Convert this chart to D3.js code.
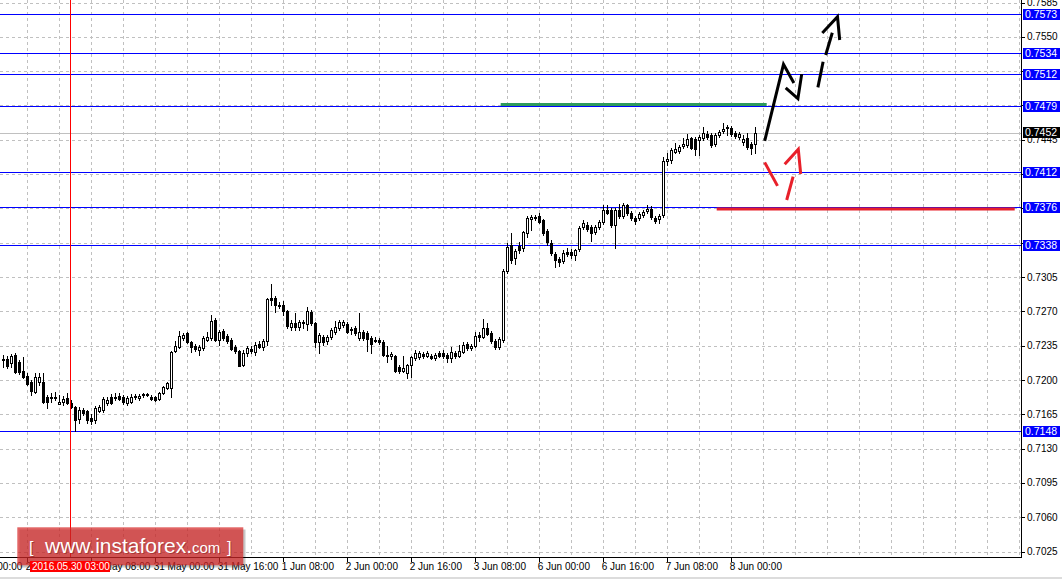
<!DOCTYPE html>
<html>
<head>
<meta charset="utf-8">
<script src="https://cdn.jsdelivr.net/npm/d3@7"></script>
<style>
  body { margin: 0; background: #fff; }
  svg { display: block; font-family: "Liberation Sans", Arial, sans-serif; }
</style>
</head>
<body>
<script>
// H1 AUD/USD candles, bar 0 = 27 May 10:00 (weekend gap removed)
var open = [
  .7221,.7221,.7217,.7226,.7218,.7209,.7204,.7198,.7188,.7198,.7198,.7183,.7183,.7182,.7176,.7178,.7182,.7177,.7172,.7160,
  .7169,.7168,.7161,.7159,.7168,.7169,.7177,.7183,.7182,.7184,.7183,.7177,.7178,.7183,.7182,.7185,.7186,.7183,.7183,.7181,
  .7187,.7192,.7192,.7230,.7234,.7243,.7248,.7239,.7235,.7231,.7233,.7241,.7243,.7261,.7241,.7250,.7245,.7241,.7234,.7230,
  .7215,.7228,.7232,.7229,.7237,.7234,.7240,.7284,.7284,.7277,.7276,.7270,.7254,.7258,.7254,.7258,.7257,.7269,.7258,.7239,
  .7244,.7240,.7244,.7249,.7253,.7256,.7257,.7252,.7253,.7243,.7249,.7248,.7243,.7241,.7241,.7239,.7226,.7224,.7224,.7213,
  .7209,.7207,.7215,.7222,.7223,.7227,.7225,.7225,.7222,.7228,.7228,.7226,.7222,.7228,.7225,.7229,.7237,.7233,.7235,.7246,
  .7244,.7253,.7248,.7240,.7234,.7241,.7311,.7338,.7324,.7337,.7335,.7350,.7364,.7366,.7367,.7363,.7352,.7340,.7329,.7323,
  .7321,.7331,.7331,.7328,.7334,.7356,.7358,.7356,.7351,.7356,.7361,.7373,.7373,.7358,.7373,.7367,.7378,.7370,.7365,.7365,
  .7368,.7372,.7374,.7365,.7364,.7368,.7423,.7424,.7433,.7434,.7439,.7440,.7447,.7446,.7445,.7447,.7451,.7450,.7441,.7450,
  .7454,.7458,.7457,.7452,.7448,.7443,.7447,.7441,.7441
];
var high = [
  .7226,.7224,.7227,.7228,.7220,.7223,.7207,.7200,.7207,.7207,.7207,.7185,.7187,.7188,.7185,.7184,.7187,.7180,.7173,.7172,
  .7171,.7169,.7165,.7173,.7175,.7183,.7183,.7186,.7187,.7187,.7185,.7184,.7186,.7186,.7186,.7187,.7187,.7185,.7184,.7188,
  .7194,.7198,.7230,.7240,.7250,.7248,.7249,.7240,.7237,.7236,.7245,.7249,.7266,.7263,.7251,.7252,.7247,.7243,.7236,.7231,
  .7231,.7235,.7235,.7239,.7240,.7242,.7284,.7298,.7286,.7280,.7281,.7271,.7261,.7268,.7261,.7261,.7274,.7271,.7259,.7248,
  .7246,.7246,.7253,.7260,.7261,.7261,.7259,.7254,.7255,.7268,.7251,.7250,.7245,.7244,.7243,.7241,.7235,.7229,.7226,.7215,
  .7224,.7216,.7224,.7231,.7230,.7229,.7230,.7227,.7228,.7230,.7231,.7228,.7234,.7230,.7236,.7239,.7239,.7237,.7249,.7249,
  .7262,.7258,.7250,.7242,.7244,.7313,.7340,.7350,.7334,.7341,.7352,.7367,.7368,.7368,.7370,.7364,.7354,.7343,.7331,.7325,
  .7333,.7335,.7334,.7334,.7357,.7363,.7361,.7358,.7358,.7363,.7378,.7378,.7375,.7375,.7380,.7381,.7380,.7372,.7367,.7371,
  .7373,.7378,.7377,.7367,.7369,.7427,.7432,.7437,.7442,.7440,.7447,.7451,.7448,.7448,.7450,.7458,.7454,.7452,.7452,.7455,
  .7462,.7460,.7459,.7454,.7453,.7450,.7452,.7443,.7458
];
var low = [
  .7213,.7212,.7213,.7207,.7206,.7202,.7195,.7185,.7187,.7195,.7177,.7171,.7178,.7180,.7176,.7175,.7176,.7171,.7148,.7156,
  .7164,.7156,.7155,.7156,.7167,.7167,.7175,.7176,.7180,.7180,.7176,.7175,.7177,.7181,.7180,.7183,.7184,.7180,.7179,.7180,
  .7186,.7191,.7183,.7229,.7233,.7241,.7238,.7229,.7230,.7226,.7231,.7240,.7241,.7240,.7236,.7241,.7238,.7231,.7228,.7214,
  .7214,.7225,.7228,.7226,.7233,.7231,.7236,.7276,.7269,.7273,.7266,.7253,.7251,.7251,.7251,.7253,.7251,.7256,.7234,.7228,
  .7236,.7237,.7242,.7247,.7251,.7254,.7248,.7247,.7246,.7241,.7241,.7230,.7228,.7239,.7237,.7225,.7218,.7221,.7208,.7207,
  .7208,.7202,.7203,.7220,.7221,.7222,.7223,.7221,.7220,.7223,.7222,.7218,.7218,.7222,.7223,.7228,.7231,.7231,.7234,.7240,
  .7243,.7246,.7238,.7232,.7232,.7239,.7309,.7319,.7318,.7330,.7332,.7346,.7353,.7363,.7360,.7348,.7338,.7328,.7315,.7316,
  .7319,.7326,.7324,.7322,.7332,.7354,.7352,.7342,.7349,.7354,.7359,.7369,.7356,.7335,.7365,.7365,.7368,.7363,.7359,.7363,
  .7366,.7370,.7364,.7360,.7360,.7366,.7419,.7421,.7432,.7432,.7437,.7438,.7436,.7430,.7430,.7445,.7446,.7438,.7439,.7448,
  .7452,.7450,.7449,.7447,.7446,.7440,.7436,.7431,.7432
];
var close = [
  .7220,.7214,.7224,.7208,.7208,.7203,.7196,.7189,.7203,.7203,.7178,.7178,.7182,.7183,.7178,.7181,.7177,.7172,.7159,.7169,
  .7166,.7159,.7158,.7171,.7172,.7181,.7180,.7177,.7183,.7181,.7178,.7182,.7183,.7184,.7184,.7186,.7185,.7181,.7180,.7187,
  .7193,.7197,.7229,.7235,.7245,.7246,.7239,.7234,.7232,.7234,.7243,.7244,.7260,.7241,.7249,.7243,.7240,.7232,.7230,.7214,
  .7228,.7233,.7230,.7236,.7234,.7240,.7283,.7282,.7277,.7275,.7270,.7255,.7258,.7254,.7259,.7259,.7270,.7258,.7239,.7246,
  .7239,.7244,.7251,.7254,.7259,.7259,.7249,.7251,.7248,.7249,.7243,.7242,.7237,.7240,.7239,.7226,.7224,.7227,.7209,.7209,
  .7212,.7215,.7223,.7228,.7228,.7224,.7228,.7222,.7226,.7225,.7224,.7222,.7229,.7224,.7230,.7236,.7233,.7235,.7245,.7244,
  .7253,.7247,.7240,.7234,.7242,.7311,.7336,.7322,.7332,.7333,.7351,.7365,.7366,.7365,.7361,.7350,.7341,.7330,.7322,.7320,
  .7330,.7329,.7327,.7333,.7355,.7360,.7354,.7350,.7356,.7361,.7373,.7370,.7358,.7373,.7367,.7379,.7370,.7365,.7362,.7369,
  .7371,.7374,.7366,.7362,.7367,.7423,.7425,.7435,.7436,.7438,.7441,.7446,.7437,.7436,.7448,.7452,.7448,.7440,.7450,.7453,
  .7456,.7457,.7451,.7449,.7451,.7446,.7438,.7437,.7452
];

var priceTicks = [0.7585,0.7550,0.7515,0.7480,0.7445,0.7410,0.7375,0.7340,0.7305,0.7270,0.7235,0.7200,0.7165,0.7130,0.7095,0.7060,0.7025];
var levels = [0.7573,0.7534,0.7512,0.7479,0.7412,0.7376,0.7338,0.7148];
var bid = 0.7452;

var timeTickBars = [-10,6,22,38,54,70,86,102,118,134,150,166,182];
var timeTickLabels = ["27 May 00:00","27 May 16:00","30 May 08:00","31 May 00:00","31 May 16:00","1 Jun 08:00",
  "2 Jun 00:00","2 Jun 16:00","3 Jun 08:00","6 Jun 00:00","6 Jun 16:00","7 Jun 08:00","8 Jun 00:00"];
var crossBar = 17, crossLabel = "2016.05.30 03:00";

// drawn objects: [bar, price]
var greenLine = [[124.5,0.7481],[191,0.7481]];
var redLine = [[178.5,0.73744],[253,0.73744]];
var blackPaths = [
  [[190.5,0.7444],[195.2,0.7522],[197.8,0.7503]],
  [[195.75,0.7498],[198.8,0.7487],[199.75,0.7512]],
  [[203.8,0.74985],[205.1,0.75246]],
  [[205.75,0.75315],[207.4,0.75542]],
  [[204.9,0.7554],[208.7,0.75705],[209.25,0.75468]]
];
var redPaths = [
  [[190.5,0.7422],[193.7,0.7398]],
  [[196,0.73836],[197.6,0.74074]],
  [[195.5,0.7420],[198.9,0.74354],[199.5,0.74101]]
];

var W = 1062, H = 579, plotR = 1021, plotB = 557;

var svg = d3.select("body").append("svg")
    .attr("width", W).attr("height", H);

var x = d3.scaleLinear().domain([0, 255]).range([2.7, 1022.7]);
var y = d3.scaleLinear().domain([0.7148, 0.7573]).range([431, 14.3]);

svg.append("clipPath").attr("id","plot")
   .append("rect").attr("width", plotR).attr("height", plotB);

var plot = svg.append("g").attr("clip-path","url(#plot)");

// dashed grid
plot.selectAll(".hg").data(priceTicks).enter().append("line")
    .attr("x1",0).attr("x2",plotR)
    .attr("y1",function(d){return Math.round(y(d))+0.5;})
    .attr("y2",function(d){return Math.round(y(d))+0.5;})
    .attr("stroke","#c0c0c0").attr("stroke-dasharray","3,3");
plot.selectAll(".vg").data(d3.range(-2, 256, 8)).enter().append("line")
    .attr("y1",0).attr("y2",plotB)
    .attr("x1",function(d){return Math.round(x(d))+0.5;})
    .attr("x2",function(d){return Math.round(x(d))+0.5;})
    .attr("stroke","#c0c0c0").attr("stroke-dasharray","3,3");

// bid line
plot.append("line")
    .attr("x1",0).attr("x2",plotR)
    .attr("y1",Math.round(y(bid))+0.5).attr("y2",Math.round(y(bid))+0.5)
    .attr("stroke","#c0c0c0");

// support / resistance levels
plot.selectAll(".lv").data(levels).enter().append("line")
    .attr("x1",0).attr("x2",plotR)
    .attr("y1",function(d){return Math.round(y(d))+0.5;})
    .attr("y2",function(d){return Math.round(y(d))+0.5;})
    .attr("stroke","#0000ff");

// candles
var bars = plot.append("g");
open.forEach(function(o, i){
  var c = close[i];
  var cx = Math.round(x(i));
  var yh = Math.round(y(high[i])), yl = Math.round(y(low[i]));
  var top = Math.round(y(Math.max(o,c))), bot = Math.round(y(Math.min(o,c)));
  bars.append("rect").attr("x",cx).attr("y",yh).attr("width",1).attr("height",yl-yh+1).attr("fill","#000");
  bars.append("rect").attr("x",cx-1).attr("y",top).attr("width",3).attr("height",bot-top+1).attr("fill","#000");
  if (c > o && bot-top > 1)
    bars.append("rect").attr("x",cx).attr("y",top+1).attr("width",1).attr("height",bot-top-1).attr("fill","#fff");
});

var line = d3.line().x(function(d){return x(d[0]);}).y(function(d){return y(d[1]);});

plot.append("path").attr("d",line(greenLine))
    .attr("stroke","#2e9a5c").attr("stroke-width",3).attr("fill","none");
plot.append("path").attr("d",line(redLine))
    .attr("stroke","#e8202a").attr("stroke-width",3).attr("fill","none");

plot.selectAll(".bp").data(blackPaths).enter().append("path")
    .attr("d",line).attr("fill","none").attr("stroke","#000")
    .attr("stroke-width",3).attr("stroke-linejoin","miter");
plot.selectAll(".rp").data(redPaths).enter().append("path")
    .attr("d",line).attr("fill","none").attr("stroke","#e8202a")
    .attr("stroke-width",3).attr("stroke-linejoin","miter");

// crosshair
plot.append("rect")
    .attr("x",Math.round(x(crossBar))-1).attr("y",0)
    .attr("width",1).attr("height",plotB).attr("fill","#ff0000");

// axes frame
svg.append("line").attr("x1",0).attr("x2",plotR+1).attr("y1",plotB+0.5).attr("y2",plotB+0.5).attr("stroke","#000");
svg.append("line").attr("x1",plotR+0.5).attr("x2",plotR+0.5).attr("y1",0).attr("y2",plotB+1).attr("stroke","#000");
svg.append("rect").attr("x",0).attr("y",H-2).attr("width",W).attr("height",2).attr("fill","#dcdcdc");

// price axis (labels hidden under a level box are left out, as on the terminal)
var shown = priceTicks.filter(function(p){
  return !levels.some(function(l){return Math.abs(y(l)-y(p)) < 3;});
});
var pa = svg.append("g");
pa.selectAll("line").data(priceTicks).enter().append("line")
    .attr("x1",plotR).attr("x2",plotR+4)
    .attr("y1",function(d){return Math.round(y(d))+0.5;})
    .attr("y2",function(d){return Math.round(y(d))+0.5;})
    .attr("stroke","#000");
pa.selectAll("text").data(shown).enter().append("text")
    .attr("x",plotR+6).attr("y",function(d){return y(d)+3.5;})
    .attr("font-size","10px").attr("fill","#000")
    .text(function(d){return d.toFixed(4);});

var lb = svg.append("g").selectAll("g").data(levels).enter().append("g");
lb.append("rect").attr("x",plotR+2).attr("width",37).attr("height",11)
    .attr("y",function(d){return Math.round(y(d))-5;}).attr("fill","#0000ff");
lb.append("text").attr("x",plotR+4).attr("y",function(d){return y(d)+4;})
    .attr("font-size","10.5px").attr("fill","#fff")
    .text(function(d){return d.toFixed(4);});

svg.append("rect").attr("x",plotR+2).attr("y",Math.round(y(bid))-6).attr("width",37).attr("height",11).attr("fill","#000");
svg.append("text").attr("x",plotR+4).attr("y",y(bid)+3.5)
    .attr("font-size","10.5px").attr("fill","#fff").text(bid.toFixed(4));

// time axis
var ta = svg.append("g");
ta.selectAll("line").data(timeTickBars).enter().append("line")
    .attr("x1",function(d){return Math.round(x(d))+0.5;})
    .attr("x2",function(d){return Math.round(x(d))+0.5;})
    .attr("y1",plotB).attr("y2",plotB+5).attr("stroke","#000");
ta.selectAll("text").data(timeTickBars).enter().append("text")
    .attr("x",function(d){return x(d)-1;}).attr("y",plotB+13)
    .attr("font-size","10px").attr("fill","#000")
    .text(function(d,i){return timeTickLabels[i];});

// instaforex logo
var logo = svg.append("g");
logo.append("rect").attr("x",19.5).attr("y",529.5).attr("width",226).attr("height",38).attr("fill","rgba(0,0,0,0.22)");
logo.append("rect").attr("x",17.3).attr("y",527.3).attr("width",226).attr("height",38).attr("fill","rgba(214,40,40,0.72)");
[["[",29,16],["www.instaforex.",45,21],["com",192,15],["]",227,16]].forEach(function(t){
  logo.append("text").attr("x",t[1]+1).attr("y",554.3).attr("font-size",t[2]+"px")
      .attr("fill","rgba(90,0,0,0.35)").text(t[0]);
  logo.append("text").attr("x",t[1]).attr("y",553.3).attr("font-size",t[2]+"px")
      .attr("fill","#fff").text(t[0]);
});

// crosshair time label
svg.append("rect").attr("x",30).attr("y",561).attr("width",80).attr("height",11).attr("fill","#ff0000");
svg.append("text").attr("x",32).attr("y",570).attr("font-size","10px").attr("fill","#fff").text(crossLabel);
</script>
</body>
</html>
